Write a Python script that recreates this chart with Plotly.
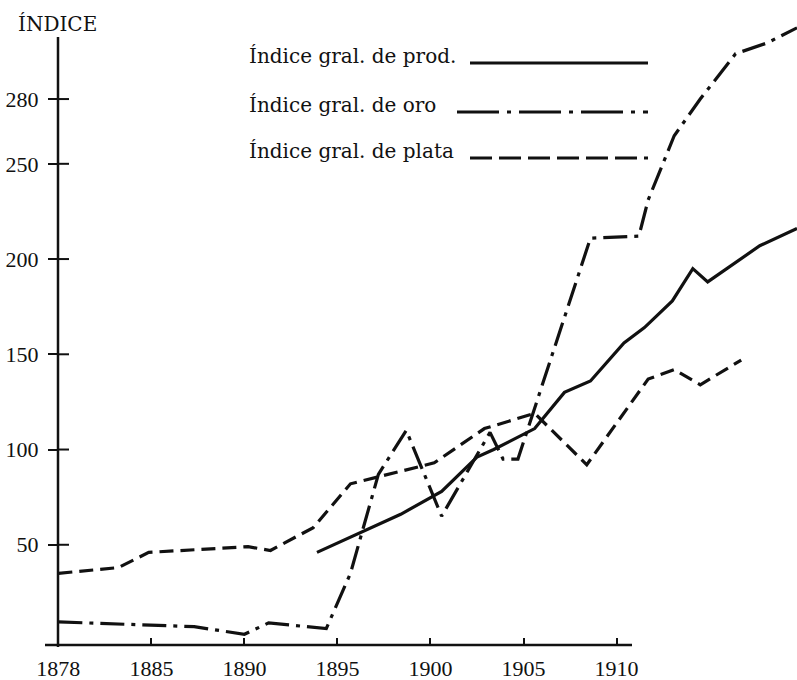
import plotly.graph_objects as go

# ---------------- data ----------------
years_prod = [1893.9, 1896.4, 1898.4, 1900.6, 1902.5, 1903.4, 1905.6, 1907.2,
              1908.6, 1910.4, 1911.5, 1913.0, 1914.1, 1914.9, 1917.7, 1919.7]
prod = [46, 57, 66, 78, 96, 100, 111, 130, 136, 156, 164, 178, 195, 188, 207, 216]

years_oro = [1878.0, 1887.3, 1890.0, 1891.3, 1894.4, 1895.7, 1897.2, 1898.7,
             1900.6, 1903.2, 1903.9, 1904.7, 1908.6, 1911.2, 1911.7, 1913.1,
             1914.5, 1916.4, 1918.1, 1919.7]
oro = [9.5, 7, 3, 9, 6, 35, 87, 110, 65, 109, 95, 95, 211, 212, 231, 263,
       280, 301, 306, 313]

years_plata = [1878.0, 1882.5, 1884.8, 1890.2, 1891.4, 1893.7, 1895.7, 1900.2,
               1902.9, 1905.6, 1908.4, 1911.7, 1913.1, 1914.5, 1916.7]
plata = [35, 38, 46, 49, 47, 59, 82, 93, 111, 119, 92, 137, 142, 134, 147]

x_ticks = [1878, 1885, 1890, 1895, 1900, 1905, 1910]
y_ticks = [50, 100, 150, 200, 250, 280]

legend_labels = ["Índice gral. de prod.", "Índice gral. de oro", "Índice gral. de plata"]
y_title = "ÍNDICE"


# The original drawing compresses 1878-1885 and stretches the scale above 250
def xpos(year):
    return year if year >= 1885 else 1885 - (1885 - year) * 5 / 7


def ypos(v):
    return v if v <= 250 else 250 + (v - 250) * 34 / 30


INK = "#111111"
W, H = 797, 680
L, R, T, B = 58, 0, 0, 35
PW, PH = W - L - R, H - T - B


def px(xp):
    return (xp - L) / PW


def py(yp):
    return (H - B - yp) / PH


dash_oro = "24px,7px,4px,7px"
dash_plata = "14px,7px"

fig = go.Figure()
fig.add_trace(go.Scatter(x=[xpos(v) for v in years_prod], y=[ypos(v) for v in prod],
                         mode="lines", line=dict(color=INK, width=3.2), name=legend_labels[0],
                         showlegend=False))
fig.add_trace(go.Scatter(x=[xpos(v) for v in years_oro], y=[ypos(v) for v in oro],
                         mode="lines", line=dict(color=INK, width=3.2, dash=dash_oro),
                         name=legend_labels[1], showlegend=False))
fig.add_trace(go.Scatter(x=[xpos(v) for v in years_plata], y=[ypos(v) for v in plata],
                         mode="lines", line=dict(color=INK, width=3.2, dash=dash_plata),
                         name=legend_labels[2], showlegend=False))

shapes = []
# axis lines
shapes.append(dict(type="line", xref="paper", yref="paper", x0=px(45), x1=px(632),
                   y0=py(645), y1=py(645), line=dict(color=INK, width=2.5)))
shapes.append(dict(type="line", xref="paper", yref="paper", x0=0, x1=0,
                   y0=py(647), y1=py(37), line=dict(color=INK, width=2.5)))
# inner half of the crossing y ticks
for v in y_ticks:
    shapes.append(dict(type="line", xref="paper", yref="y", x0=0, x1=11 / PW,
                       y0=ypos(v), y1=ypos(v), line=dict(color=INK, width=2)))

# legend lines
leg_rows = [(63, 470, "solid", 3), (112, 457, "42px,8px,4px,8px", 3), (158, 470, "22px,7px", 3)]
for yy, x0, d, w in leg_rows:
    shapes.append(dict(type="line", xref="paper", yref="paper", x0=px(x0), x1=px(648),
                       y0=py(yy), y1=py(yy), line=dict(color=INK, width=w, dash=d)))

annotations = []
for (yy, _, _, _), lab in zip(leg_rows, legend_labels):
    annotations.append(dict(text=lab, xref="paper", yref="paper", x=px(247), y=py(yy - 7),
                            xanchor="left", yanchor="middle", showarrow=False,
                            font=dict(family="DejaVu Serif", size=20, color=INK)))
annotations.append(dict(text=y_title, xref="paper", yref="paper", x=px(16), y=py(24),
                        xanchor="left", yanchor="middle", showarrow=False,
                        font=dict(family="DejaVu Serif", size=20, color=INK)))

fig.update_layout(
    width=W, height=H,
    margin=dict(l=L, r=R, t=T, b=B),
    paper_bgcolor="white", plot_bgcolor="white",
    shapes=shapes, annotations=annotations,
    font=dict(family="Liberation Serif", size=22, color=INK),
    xaxis=dict(range=[1879.98, 1919.7],
               tickvals=[xpos(v) for v in x_ticks], ticktext=[str(v) for v in x_ticks],
               showgrid=False, zeroline=False, showline=False, automargin=False,
               ticks="inside", ticklen=7, tickwidth=2, tickcolor=INK,
               ticklabelstandoff=8),
    yaxis=dict(range=[-2.62, 336.0],
               tickvals=[ypos(v) for v in y_ticks], ticktext=[str(v) for v in y_ticks],
               showgrid=False, zeroline=False, showline=False, automargin=False,
               ticks="outside", ticklen=9, tickwidth=2, tickcolor=INK,
               ticklabelstandoff=5),
)

fig.write_html("out.html", config={"displayModeBar": False},
               post_script="document.body.style.margin='0';")
